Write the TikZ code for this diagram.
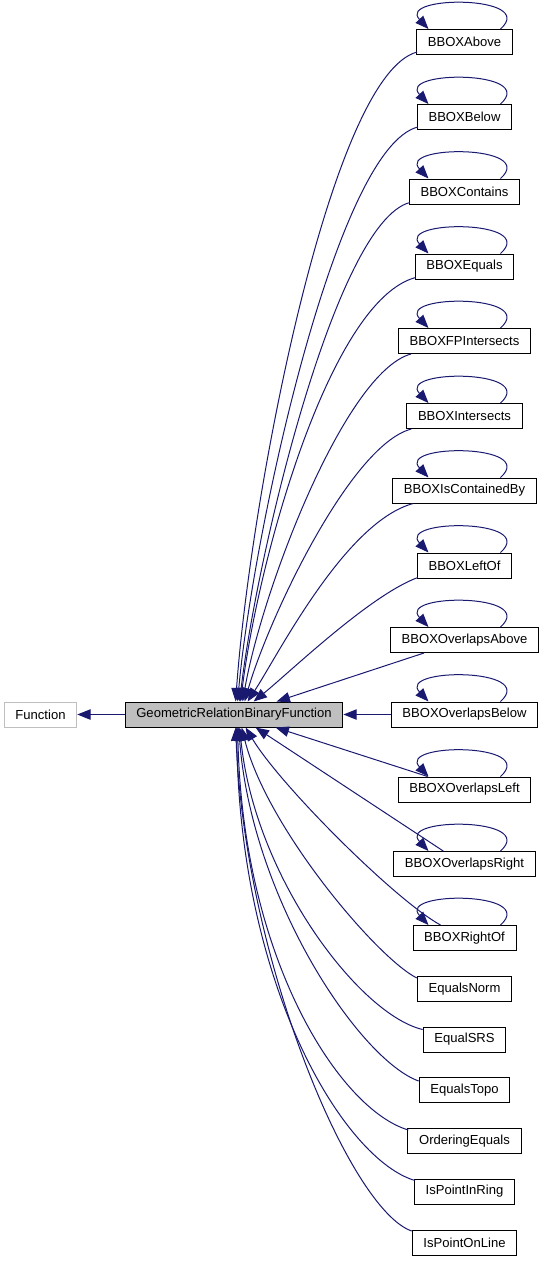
\documentclass[tikz,border=0pt]{standalone}
\usepackage{fontspec}
\setmainfont{Liberation Sans}
\usetikzlibrary{arrows.meta, calc}
\definecolor{edgeblue}{HTML}{191970}
\definecolor{nodegray}{HTML}{BFBFBF}

\begin{document}
\begin{tikzpicture}[x=0.75pt,y=0.75pt,yscale=-1,xscale=1,
  box/.style={draw=black, line width=0.75pt, minimum height=18.75pt, inner xsep=8.4pt, inner ysep=0pt, font=\fontsize{9.8}{11}\selectfont},
  edge/.style={draw=edgeblue, line width=0.75pt, -{Triangle[length=10pt,width=7.8pt]}},
]
\useasboundingbox (0,0) rectangle (544,1261);

% Text Node
\draw (40.5,714.5) node [box, draw=nodegray] (function) {Function};
% Text Node
\draw (234,714.5) node [box, fill=nodegray] (grbf) {GeometricRelationBinaryFunction};

% Text Node
\draw (464.5,42) node [box] (above) {BBOXAbove};
% Text Node
\draw (464.5,117) node [box] (below) {BBOXBelow};
% Text Node
\draw (464.5,191.5) node [box] (contains) {BBOXContains};
% Text Node
\draw (464.5,266.5) node [box] (equals) {BBOXEquals};
% Text Node
\draw (464.5,341) node [box] (fpint) {BBOXFPIntersects};
% Text Node
\draw (464.5,416) node [box] (inter) {BBOXIntersects};
% Text Node
\draw (464.5,490.5) node [box] (contby) {BBOXIsContainedBy};
% Text Node
\draw (464.5,565.5) node [box] (leftof) {BBOXLeftOf};
% Text Node
\draw (464.5,640) node [box] (ovabove) {BBOXOverlapsAbove};
% Text Node
\draw (464.5,714.5) node [box] (ovbelow) {BBOXOverlapsBelow};
% Text Node
\draw (464.5,789.5) node [box] (ovleft) {BBOXOverlapsLeft};
% Text Node
\draw (464.5,864) node [box] (ovright) {BBOXOverlapsRight};
% Text Node
\draw (464.5,938) node [box] (rightof) {BBOXRightOf};
% Text Node
\draw (464.5,989) node [box] (eqnorm) {EqualsNorm};
% Text Node
\draw (464.5,1039.5) node [box] (eqsrs) {EqualSRS};
% Text Node
\draw (464.5,1090) node [box] (eqtopo) {EqualsTopo};
% Text Node
\draw (464.5,1141) node [box] (ordeq) {OrderingEquals};
% Text Node
\draw (464.5,1191.5) node [box] (inring) {IsPointInRing};
% Text Node
\draw (464.5,1243) node [box] (online) {IsPointOnLine};

%Straight Lines
\draw [edge] (grbf.west) -- (function.east);
\draw [edge] (ovbelow.west) -- (grbf.east);

%Curve Lines (upper children)
\draw [edge] ($(above.south west)+(1,-3)$) .. controls (330,75) and (250,500) .. ($(grbf.north west)+(111,0)$);
\draw [edge] ($(below.south west)+(1,-3)$) .. controls (335,148) and (252,540) .. ($(grbf.north west)+(113,0)$);
\draw [edge] ($(contains.south west)+(1,-2)$) .. controls (335,222) and (256,560) .. ($(grbf.north west)+(115,0)$);
\draw [edge] ($(equals.south west)+(1,-2)$) .. controls (330,300) and (258,560) .. ($(grbf.north west)+(116,0)$);
\draw [edge] ($(fpint.south west)+(13,0)$) .. controls (345,372) and (262,590) .. ($(grbf.north west)+(118,0)$);
\draw [edge] ($(inter.south west)+(5,0)$) .. controls (350,445) and (268,620) .. ($(grbf.north west)+(120,0)$);
\draw [edge] ($(contby.south west)+(21,0)$) .. controls (345,522) and (278,655) .. ($(grbf.north west)+(123,0)$);
\draw [edge] ($(leftof.south west)+(1,-1)$) .. controls (370,595) and (290,672) .. ($(grbf.north west)+(129,0)$);
\draw [edge] ($(ovabove.south west)+(34,0)$) -- ($(grbf.north west)+(152,0)$);

%Curve Lines (lower children)
\draw [edge] ($(ovleft.north west)+(30,0)$) -- ($(grbf.south west)+(151,0)$);
\draw [edge] ($(ovright.north west)+(50,0)$) -- ($(grbf.south west)+(131,0)$);
\draw [edge] ($(rightof.north west)+(28,0)$) .. controls (395,900) and (280,785) .. ($(grbf.south west)+(121,0)$);
\draw [edge] ($(eqnorm.north west)+(0,2)$) .. controls (377,958) and (267,828) .. ($(grbf.south west)+(117,0)$);
\draw [edge] ($(eqsrs.north west)+(0,3)$) .. controls (360,1015) and (255,878) .. ($(grbf.south west)+(115,0)$);
\draw [edge] ($(eqtopo.north west)+(0,4)$) .. controls (360,1060) and (252,900) .. ($(grbf.south west)+(114,0)$);
\draw [edge] ($(ordeq.north west)+(1,2)$) .. controls (340,1110) and (243,960) .. ($(grbf.south west)+(113,0)$);
\draw [edge] ($(inring.north west)+(1,2)$) .. controls (345,1160) and (240,990) .. ($(grbf.south west)+(112,0)$);
\draw [edge] ($(online.north west)+(0,1)$) .. controls (350,1210) and (245,960) .. ($(grbf.south west)+(111,0)$);

%Self Loops
\draw [edge] ($(above.north)+(36,0)$) .. controls +(38,-34) and +(-32,-34) .. ($(above.north)+(-36,0)$);
\draw [edge] ($(below.north)+(36,0)$) .. controls +(38,-34) and +(-32,-34) .. ($(below.north)+(-36,0)$);
\draw [edge] ($(contains.north)+(36,0)$) .. controls +(38,-34) and +(-32,-34) .. ($(contains.north)+(-36,0)$);
\draw [edge] ($(equals.north)+(36,0)$) .. controls +(38,-34) and +(-32,-34) .. ($(equals.north)+(-36,0)$);
\draw [edge] ($(fpint.north)+(36,0)$) .. controls +(38,-34) and +(-32,-34) .. ($(fpint.north)+(-36,0)$);
\draw [edge] ($(inter.north)+(36,0)$) .. controls +(38,-34) and +(-32,-34) .. ($(inter.north)+(-36,0)$);
\draw [edge] ($(contby.north)+(36,0)$) .. controls +(38,-34) and +(-32,-34) .. ($(contby.north)+(-36,0)$);
\draw [edge] ($(leftof.north)+(36,0)$) .. controls +(38,-34) and +(-32,-34) .. ($(leftof.north)+(-36,0)$);
\draw [edge] ($(ovabove.north)+(36,0)$) .. controls +(38,-34) and +(-32,-34) .. ($(ovabove.north)+(-36,0)$);
\draw [edge] ($(ovbelow.north)+(36,0)$) .. controls +(38,-34) and +(-32,-34) .. ($(ovbelow.north)+(-36,0)$);
\draw [edge] ($(ovleft.north)+(36,0)$) .. controls +(38,-34) and +(-32,-34) .. ($(ovleft.north)+(-36,0)$);
\draw [edge] ($(ovright.north)+(36,0)$) .. controls +(38,-34) and +(-32,-34) .. ($(ovright.north)+(-36,0)$);
\draw [edge] ($(rightof.north)+(36,0)$) .. controls +(38,-34) and +(-32,-34) .. ($(rightof.north)+(-36,0)$);

\end{tikzpicture}
\end{document}
